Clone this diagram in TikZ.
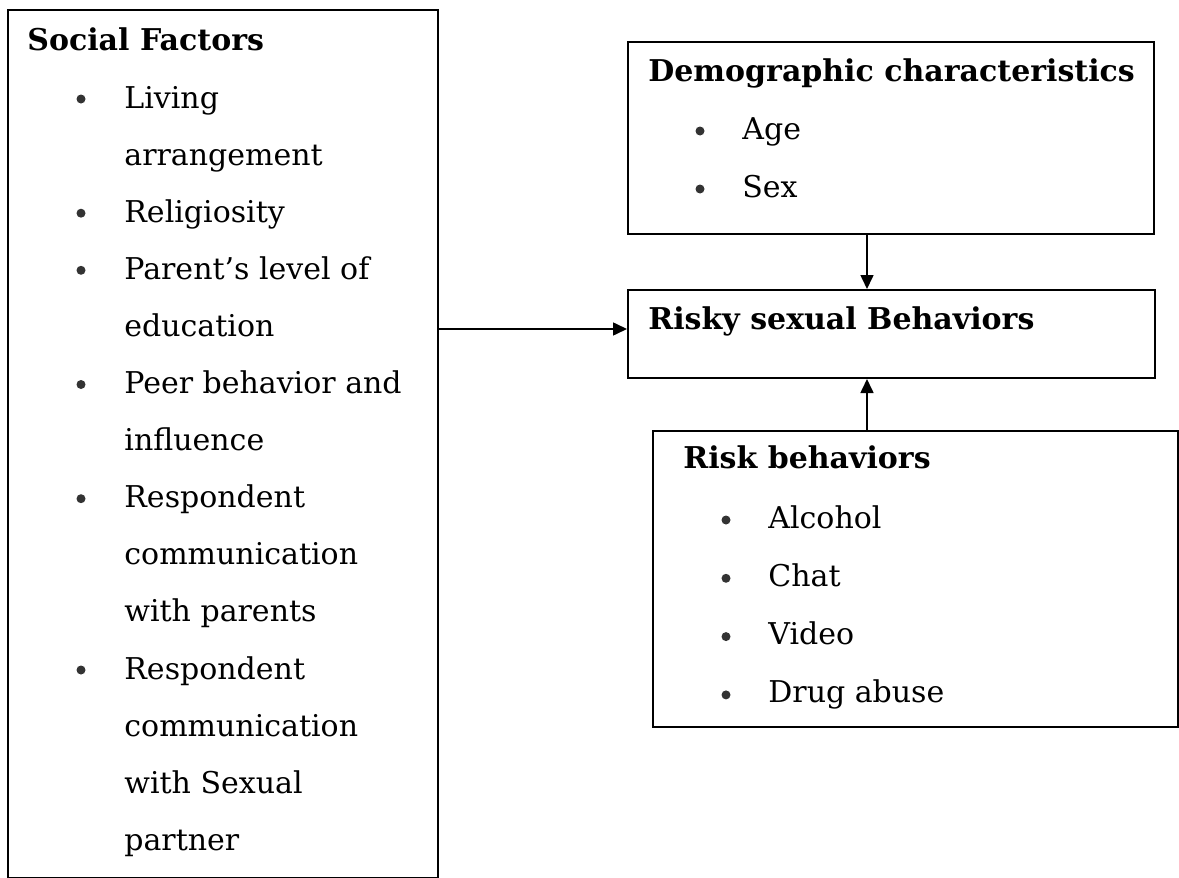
\documentclass[tikz,border=0pt]{standalone}
\usepackage{fontspec}
\setmainfont{DejaVu Serif}
\usetikzlibrary{positioning, arrows.meta}

\begin{document}
\begin{tikzpicture}[
    x=0.5pt, y=-0.5pt,
    frame/.style={draw, line width=1pt, inner sep=0pt, anchor=north west},
    head/.style={anchor=base west, inner sep=0pt, font=\fontsize{15}{18}\selectfont\bfseries},
    entry/.style={anchor=base west, inner sep=0pt, font=\fontsize{15}{18}\selectfont},
    dot/.style={circle, fill=black!80, inner sep=0pt, minimum size=4.5pt},
    arrow/.style={-{Triangle[length=7pt, width=6.5pt]}, line width=0.8pt}
]
    \useasboundingbox (0,0) rectangle (1179,878);

    % Boxes
    \node[frame, minimum width=215pt, minimum height=434pt] (social) at (7,9) {};
    \node[frame, minimum width=263pt, minimum height=96pt] (demo) at (627,41) {};
    \node[frame, minimum width=263.5pt, minimum height=44pt] (risky) at (627,289) {};
    \node[frame, minimum width=262.5pt, minimum height=148pt] (riskbeh) at (652,430) {};

    % Social factors
    \node[head] (socialtitle) at (27,50) {Social Factors};
    \foreach \txt [count=\i] in {Living, arrangement, Religiosity, Parent’s level of,
        education, Peer behavior and, influence, Respondent, communication,
        with parents, Respondent, communication, with Sexual, partner}
        \node[entry] (social\i) at (124,{108+57.1*(\i-1)}) {\txt};
    \foreach \i in {1,3,4,6,8,11}
        \node[dot] (socialdot\i) at (81,{99+57.1*(\i-1)}) {};

    % Demographic characteristics
    \node[head] (demotitle) at (648,81) {Demographic characteristics};
    \node[entry] (demo1) at (742,139) {Age};
    \node[entry] (demo2) at (742,197) {Sex};
    \node[dot] (demodot1) at (700,131) {};
    \node[dot] (demodot2) at (700,189) {};

    % Risky sexual behaviors
    \node[head] (riskytitle) at (648,329) {Risky sexual Behaviors};

    % Risk behaviors
    \node[head] (riskbehtitle) at (683,468) {Risk behaviors};
    \foreach \txt [count=\i] in {Alcohol, Chat, Video, Drug abuse} {
        \node[entry] (riskbeh\i) at (768,{528+58.3*(\i-1)}) {\txt};
        \node[dot] (riskbehdot\i) at (726,{520+58.3*(\i-1)}) {};
    }

    % Arrows
    \coordinate (arrowx) at (867,0);
    \coordinate (arrowy) at (0,329);
    \draw[arrow] (social.east |- arrowy) -- (risky.west |- arrowy);
    \draw[arrow] (arrowx |- demo.south) -- (arrowx |- risky.north);
    \draw[arrow] (arrowx |- riskbeh.north) -- (arrowx |- risky.south);

\end{tikzpicture}
\end{document}
